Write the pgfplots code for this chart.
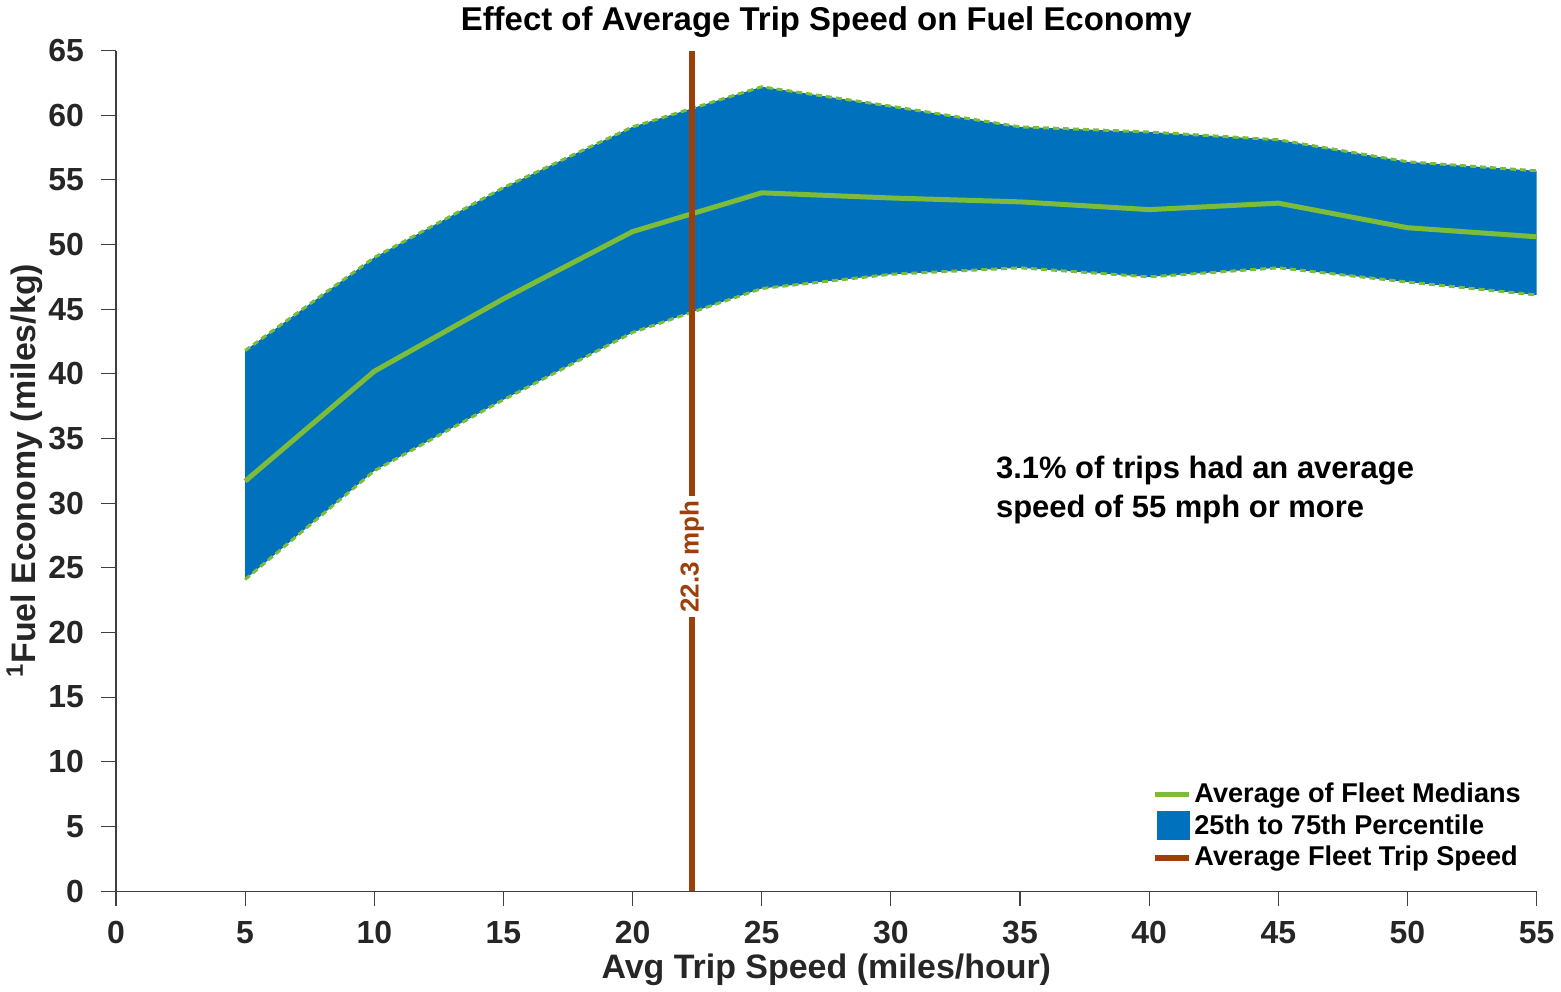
\documentclass[border=0pt]{standalone}
\usepackage{fontspec}
\setmainfont{Liberation Sans}
\usepackage{pgfplots}
\pgfplotsset{compat=1.18}
\usepgfplotslibrary{fillbetween}
\definecolor{mblue}{RGB}{0,114,189}
\definecolor{mgreen}{RGB}{125,188,56}
\definecolor{mbrown}{RGB}{156,63,11}
\pgfplotstableread{
x upper median lower
5 41.8 31.7 24.1
10 49.0 40.2 32.5
15 54.4 45.8 38.0
20 59.1 51.0 43.2
25 62.2 54.0 46.6
30 60.7 53.6 47.7
35 59.1 53.3 48.2
40 58.7 52.7 47.5
45 58.1 53.2 48.2
50 56.4 51.3 47.1
55 55.7 50.6 46.1
}\datatable
\begin{document}
\begin{tikzpicture}
\begin{axis}[
  scale only axis,
  width=711.5pt, height=421pt,
  xmin=0, xmax=55, ymin=0, ymax=65,
  xtick={0,5,...,55}, ytick={0,5,...,65},
  axis x line*=bottom, axis y line*=left,
  axis line style={black!75, line width=0.6pt},
  tick style={black!75, line width=0.6pt},
  tick align=outside, major tick length=7.5pt,
  /pgf/number format/assume math mode=true,
  ticklabel style={font=\fontsize{16}{18}\selectfont\bfseries, text=black!85},
  xticklabel style={yshift=-4pt},
  yticklabel style={xshift=-5pt},
  title={Effect of Average Trip Speed on Fuel Economy},
  title style={font=\fontsize{16.5}{19}\selectfont\bfseries, yshift=-3pt},
  xlabel={Avg Trip Speed (miles/hour)},
  ylabel={\textsuperscript{1}Fuel Economy (miles/kg)},
  label style={font=\fontsize{17}{19}\selectfont\bfseries, text=black!85},
  xlabel style={yshift=2pt},
  ylabel style={yshift=-4pt},
  legend style={draw=none, fill=none, at={(0.992,0.02)}, anchor=south east,
    font=\fontsize{13.6}{16}\selectfont\bfseries, row sep=1.5pt,
    legend cell align=left, inner sep=1pt,
    nodes={inner xsep=1pt, inner ysep=1.5pt}},
  legend image code/.code={\draw[#1] (0cm,0cm) -- (0.6cm,0cm);},
]
\addlegendimage{mgreen, line width=2.5pt}
\addlegendentry{Average of Fleet Medians}
\addlegendimage{legend image code/.code={\fill[mblue] (0.03cm,-0.23cm) rectangle (0.6cm,0.25cm);}}
\addlegendentry{25th to 75th Percentile}
\addlegendimage{mbrown, line width=3pt}
\addlegendentry{Average Fleet Trip Speed}

\addplot[name path=up, mgreen, line width=1.5pt, dash pattern=on 3pt off 2pt, forget plot] table[x=x, y=upper] {\datatable};
\addplot[name path=lo, mgreen, line width=1.5pt, dash pattern=on 3pt off 2pt, forget plot] table[x=x, y=lower] {\datatable};
\addplot[mblue, forget plot] fill between[of=up and lo];
\addplot[mgreen, line width=2.5pt, forget plot] table[x=x, y=median] {\datatable};
\addplot[mbrown, line width=3pt, forget plot] coordinates {(22.3,0) (22.3,65)}
  node[pos=0.398, rotate=90, fill=white, inner sep=2pt, text=mbrown, font=\fontsize{13}{15}\selectfont\bfseries] {22.3 mph};
\node[anchor=west, align=left, font=\fontsize{15.5}{19.5}\selectfont\bfseries] at (axis cs:33.8,31.0) {3.1\% of trips had an average\\speed of 55 mph or more};
\end{axis}
\end{tikzpicture}
\end{document}
